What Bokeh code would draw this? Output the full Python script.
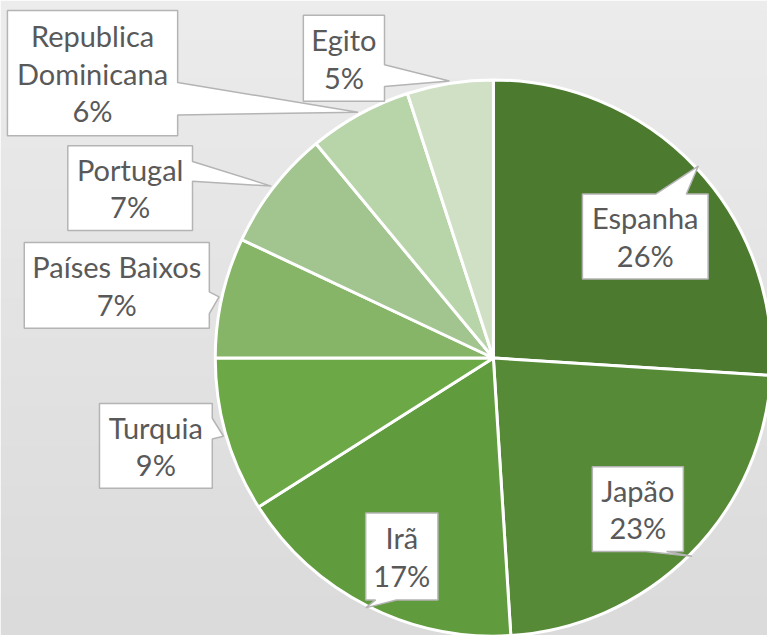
import math
import numpy as np
from bokeh.plotting import figure
from bokeh.models import Range1d, ColumnDataSource
from bokeh.core.properties import value
from bokeh.embed import file_html
from bokeh.resources import INLINE

# ---------------- data ----------------
countries = ["Espanha", "Japão", "Irã", "Turquia", "Países Baixos",
             "Portugal", "Republica\nDominicana", "Egito"]
shares = [26, 23, 17, 9, 7, 7, 6, 5]
colors = ["#4c7a2f", "#578a37", "#609b3e", "#6ca845", "#86b567",
          "#a2c48f", "#b8d4a9", "#d0e0c5"]

# ---------------- layout (reference px, 775 x 643 canvas) ----------------
W, H = 767, 635
RW, RH = 775, 643
def Y(sy):
    return RH - sy

CX, CY, R = 498, 362, 281
# callout boxes: (left, top, right, bottom), side of pointer, base positions along side
callouts = [
    ((588, 196, 715, 282), "top", 662, 693),
    ((598, 472, 690, 558), "bottom", 652, 673),
    ((369, 519, 442, 607), "bottom", 379, 400),
    ((100, 408, 214, 494), "right", 423, 444),
    ((24, 245, 211, 332), "right", 295, 317),
    ((68, 147, 194, 233), "right", 163, 183),
    ((7, 10, 179, 137), "right", 83, 116),
    ((306, 15, 388, 102), "right", 65, 87),
]

p = figure(width=W, height=H, x_range=Range1d(0, RW), y_range=Range1d(0, RH),
           output_backend="svg", toolbar_location=None, min_border=0,
           x_axis_location=None, y_axis_location=None, outline_line_color=None)
p.grid.visible = False

# background gradient
n = 64
t = np.linspace(0, 1, n)
top_c, bot_c = np.array([236, 236, 236]), np.array([219, 219, 219])
img = np.zeros((n, 1), dtype=np.uint32)
view = img.view(dtype=np.uint8).reshape((n, 1, 4))
for i in range(n):
    c = bot_c + (top_c - bot_c) * t[i]
    view[i, 0, :3] = c.astype(np.uint8)
    view[i, 0, 3] = 255
p.image_rgba(image=[img], x=0, y=0, dw=RW, dh=RH)

# pie
total = float(sum(shares))
cum = np.concatenate([[0], np.cumsum(shares)]) / total
start = [math.pi / 2 - 2 * math.pi * cum[i] for i in range(len(shares))]
end = [math.pi / 2 - 2 * math.pi * cum[i + 1] for i in range(len(shares))]
src = ColumnDataSource(dict(start=start, end=end, color=colors,
                            x=[CX] * len(shares), y=[Y(CY)] * len(shares)))
p.wedge(x="x", y="y", radius=R, start_angle="start", end_angle="end",
        direction="clock", fill_color="color", line_color="white", line_width=3,
        source=src)

# callouts
xs, ys = [], []
tx, ty, tt = [], [], []
for i, (box, side, a, b) in enumerate(callouts):
    mid = math.pi / 2 - 2 * math.pi * (cum[i] + cum[i + 1]) / 2
    tipx = CX + (R + 3) * math.cos(mid)
    tipy = CY - (R + 3) * math.sin(mid)
    x0, y0, x1, y1 = box
    if side == "top":
        pts = [(x0, y0), (a, y0), (tipx, tipy), (b, y0), (x1, y0), (x1, y1), (x0, y1)]
    elif side == "bottom":
        pts = [(x0, y0), (x1, y0), (x1, y1), (b, y1), (tipx, tipy), (a, y1), (x0, y1)]
    else:
        pts = [(x0, y0), (x1, y0), (x1, a), (tipx, tipy), (x1, b), (x1, y1), (x0, y1)]
    xs.append([q[0] for q in pts])
    ys.append([Y(q[1]) for q in pts])
    lines = countries[i].split("\n") + [f"{round(shares[i] / total * 100)}%"]
    cx = (x0 + x1) / 2
    cy = (y0 + y1) / 2
    nl = len(lines)
    for k, s in enumerate(lines):
        mid_line = cy + (k - (nl - 1) / 2) * 38
        tx.append(cx)
        ty.append(Y(mid_line))
        tt.append(s)

p.patches(xs=xs, ys=ys, fill_color="white", line_color="#b4b4b4", line_width=1.5)
p.text(x=tx, y=ty, text=tt, text_align="center", text_baseline="middle",
       text_font=value("Lato"), text_font_size="29px", text_color="#595959")

open("out.html", "w").write(file_html(p, INLINE))
